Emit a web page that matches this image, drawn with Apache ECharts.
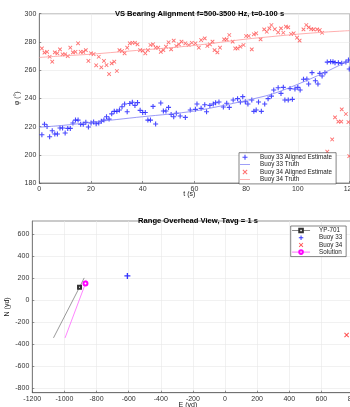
<!DOCTYPE html>
<html>
<head>
<meta charset="utf-8">
<script src="https://cdn.jsdelivr.net/npm/echarts@6/dist/echarts.min.js"></script>
<style>
  html, body { margin: 0; padding: 0; overflow: hidden; background: #fff; }
  #main { width: 350px; height: 407px; }
</style>
</head>
<body>
<div id="main"></div>
<script>
// top plot: bearings vs time
var buoy33Time = [1,2,3,4,5,6,7,8,9,10,11,12,13,14,15,16,17,18,19,20,21,22,23,24,25,26,27,28,29,30,
  31,32,33,34,35,36,37,38,39,40,41,42,43,44,45,47,48,49,50,51,52,53,54.5,56.5,58.4,60.4,61,62.6,64,64.7,
  66,67.3,68.2,69.5,71.2,72.5,73.5,75,76.7,77.8,78.7,79.7,80.7,82.2,83,83.9,84.8,85.9,87.2,88.5,
  89.8,90.7,92.4,93.5,94.4,95,96.3,97,97.9,98.9,100,100.9,102.2,103.5,104.2,105.5,106.8,107.8,108.5,109.4,
  110.5,111.4,112.7,113.6,114.4,115.7,117,118.6,119.6,119.9];
var buoy33Est = [214.2,221.6,220,212.8,217,214.7,214.7,219,219,215.4,218.7,218.7,222.5,224.6,224.6,221.6,221.6,223,219.7,222.5,
  223.2,222,222.5,223.7,224.6,227,225.3,229,230.8,230.8,231.7,234,236,230.5,236.4,237.2,235,237,231.5,230,
  230,224.6,224.6,234.3,221.8,236.7,231,231,233.6,228.6,227,229.4,227.5,226.5,231.7,232.2,236,232.9,235.5,230.5,
  235,236,236.9,237.4,233.9,236.5,233.6,238.8,239.8,237.4,241.2,237.6,236,238.8,230.8,231.7,237.4,230.8,236,239.8,
  241.6,245.9,247.5,243.5,247.8,238.8,238.8,246.9,239.3,246.6,247.8,245.9,253.5,253.7,250.2,258.2,252.5,250.2,257.7,255.8,
  258.2,265.7,266,266,265.3,265.3,264.8,265.7,267.2,260.8];

var buoy34Time = [1,2,3,4,5,6,7,8,9,10,11,12,13,14,15,16,17,18,19,20,21,22,23,24,25,26,27,28,29,30,
  31,32,33,34,35,36,37,38,39,40,41,42,43,44,45,46,47,48,49,50,51,52,53,54,55,56.5,57.8,59,60.4,61.7,
  62.6,64,65,66,67,67.8,68.9,69.9,71.5,72.5,73.5,74.8,75.8,76.7,77.8,79,80,81,82.2,83,
  83.9,85.6,87,88,89,89.8,91.1,92.4,93.5,94.4,95.4,96.3,97.4,98.4,99.7,100.7,102.2,103.3,104.2,105.2,
  106.1,107.5,108.5,109.4,111.4,113.3,114.4,115.7,116.8,117,118.6,119.6,119.9];
var buoy34Est = [275.4,272.4,273,269.5,266,272.6,271.9,274.7,271.2,271.2,270,275.9,272.6,273,279,273,273,274.2,266.5,271.9,
  271.4,263.4,269.5,262,266.5,263.6,257.2,264.8,266,259.4,274.2,273.5,271.9,275.9,279,279.4,279.4,278.3,274.2,273.8,
  271.9,274.2,277.8,278.3,275.9,275.9,273,274.2,276.6,279.7,274.7,280.9,277.1,278.3,280.2,279,277.8,279.4,279,275.9,
  281.3,282.5,277.1,278.3,280.2,274.2,272.6,275.9,281.8,281.8,284.9,280.2,275.4,275.4,276.6,277.8,284.2,284.2,274.7,285.4,
  286.1,281.8,288.9,287.2,289.6,292,289,286.8,289.6,286.5,290.8,290.3,285.6,286.1,283,280.9,288.9,292,290.3,289.1,
  288.9,288.9,288.4,286.5,202.2,210.9,226.5,223.5,223.5,232.2,228.9,223.2,199.1];

var truthTime = [0,10,20,30,40,50,60,70,80,90,100,110,118,120];
var buoy33Truth = [219.5,221,223,225,227,228.8,231,234.5,238.5,243,250,258,265,266];
var buoy34Truth = [269,270.2,271.3,272.8,274.3,275.8,277.5,279.7,282,283.8,285.5,286.9,287.8,288];

// bottom plot: overhead view, E / N in yd
var yp701Track = [[-1068, -342], [-906, 118], [-877, 203]];
var solutionTrack = [[-996, -342], [-869, 152], [-865, 185]];
var buoy33Pos = [[-608, 221]];
var buoy34Pos = [[757, -315]];

var nTicks = [-800, -600, -400, -200, 0, 200, 400, 600];

var PLUS = 'path://M0,3.9L10,3.9L10,6.1L0,6.1Z M3.9,0L6.1,0L6.1,10L3.9,10Z';
var CROSS = 'path://M0,1.5L1.5,0L10,8.5L8.5,10Z M8.5,0L10,1.5L1.5,10L0,8.5Z';
// thin horizontal line icon; corner specks keep the box from being stretched
var LINE_ICON = 'path://M0,0L0.1,0L0,0.1Z M0,8.6L40,8.6L40,11.4L0,11.4Z M40,20L39.9,20L40,19.9Z';
var FONT = 'Liberation Sans';

function pairs(xs, ys) {
  return xs.map(function (x, i) { return [x, ys[i]]; });
}
function withMarkerAt(track, idx) {
  return track.map(function (p, i) {
    return i === idx ? p : {value: p, symbol: 'none'};
  });
}

var axisCommon = {
  axisLine: {show: true, onZero: false, lineStyle: {color: '#4d4d4d', width: 0.6}},
  axisTick: {show: true, inside: true, length: 2, lineStyle: {color: '#4d4d4d', width: 0.6}},
  axisLabel: {color: '#333', fontSize: 7, fontFamily: FONT, margin: 3,
    formatter: function (v) { return String(v); }},
  splitLine: {show: true, lineStyle: {color: '#e8e8e8', width: 0.6}},
  nameLocation: 'middle',
  nameMoveOverlap: false,
  nameTextStyle: {color: '#222', fontSize: 7, fontFamily: FONT}
};
function ax(o) { return Object.assign({}, axisCommon, o); }

var legendCommon = {
  orient: 'vertical', padding: [1.5, 4, 1.5, 1], borderColor: '#333', borderWidth: 0.6,
  backgroundColor: '#fff', lineStyle: {width: 0.7}
};

var myChart = echarts.init(document.getElementById('main'));
var option = {
  animation: false,
  backgroundColor: '#fff',
  title: [
    {text: 'VS Bearing Alignment f=500-3500 Hz, t=0-100 s', left: 194.5, top: 4.5, textAlign: 'center',
      textStyle: {fontSize: 7.6, fontWeight: 'bold', color: '#000', fontFamily: FONT}},
    {text: 'Range Overhead View, Tavg = 1 s', left: 193, top: 212, textAlign: 'center',
      textStyle: {fontSize: 7.6, fontWeight: 'bold', color: '#000', fontFamily: FONT}}
  ],
  grid: [
    {left: 39.3, top: 13.7, width: 310.2, height: 169.3, outerBoundsMode: 'none', containLabel: false,
      show: true, borderColor: '#4d4d4d', borderWidth: 0.6},
    {left: 32.3, top: 221, width: 321.2, height: 171.7, outerBoundsMode: 'none', containLabel: false,
      show: true, borderColor: '#4d4d4d', borderWidth: 0.6}
  ],
  xAxis: [
    ax({gridIndex: 0, type: 'value', min: 0, max: 120, interval: 20, name: 't (s)', nameGap: 7.5,
      nameTextStyle: {color: '#222', fontSize: 7, fontFamily: FONT, padding: [0, 10, 0, 0]}}),
    ax({gridIndex: 1, type: 'value', min: -1200, max: 800, interval: 200, name: 'E (yd)', nameGap: 8.5,
      nameTextStyle: {color: '#222', fontSize: 7, fontFamily: FONT, padding: [0, 10, 0, 0]}})
  ],
  yAxis: [
    ax({gridIndex: 0, type: 'value', min: 180, max: 300, interval: 20, name: 'φ (°)', nameGap: 19}),
    ax({gridIndex: 1, type: 'value', min: -840, max: 720, name: 'N (yd)', nameGap: 22,
      axisTick: Object.assign({}, axisCommon.axisTick, {customValues: nTicks}),
      axisLabel: Object.assign({}, axisCommon.axisLabel, {customValues: nTicks}),
      splitLine: {show: true, lineStyle: {color: '#e8e8e8', width: 0.6}, customValues: nTicks}})
  ],
  legend: [
    Object.assign({}, legendCommon, {left: 239, top: 152.7, itemWidth: 22, itemHeight: 5, itemGap: 1.4,
      textStyle: {fontSize: 6.3, color: '#222', fontFamily: FONT, padding: [0, 0, 0, -1]},
      data: [
        {name: 'Buoy 33 Aligned Estimate'},
        {name: 'Buoy 33 Truth', icon: LINE_ICON},
        {name: 'Buoy 34 Aligned Estimate'},
        {name: 'Buoy 34 Truth', icon: LINE_ICON}
      ]}),
    Object.assign({}, legendCommon, {left: 290.7, top: 226, itemWidth: 18, itemHeight: 4.5, itemGap: 1.2,
      textStyle: {fontSize: 6.3, color: '#222', fontFamily: FONT, padding: [0, 0, 0, 4]},
      data: ['YP-701', 'Buoy 33', 'Buoy 34', 'Solution']})
  ],
  series: [
    {name: 'Buoy 33 Aligned Estimate', type: 'scatter', xAxisIndex: 0, yAxisIndex: 0,
      symbol: PLUS, symbolSize: 5, symbolKeepAspect: true, itemStyle: {color: '#1a1aff'},
      data: pairs(buoy33Time, buoy33Est)},
    {name: 'Buoy 33 Truth', type: 'line', xAxisIndex: 0, yAxisIndex: 0, symbol: 'none', smooth: 0.3,
      lineStyle: {color: '#8080f5', width: 0.8}, itemStyle: {color: '#8080f5'},
      data: pairs(truthTime, buoy33Truth)},
    {name: 'Buoy 34 Aligned Estimate', type: 'scatter', xAxisIndex: 0, yAxisIndex: 0,
      symbol: CROSS, symbolSize: 4.2, symbolKeepAspect: true, itemStyle: {color: '#ff4d4d'},
      data: pairs(buoy34Time, buoy34Est)},
    {name: 'Buoy 34 Truth', type: 'line', xAxisIndex: 0, yAxisIndex: 0, symbol: 'none', smooth: 0.3,
      lineStyle: {color: '#ff9999', width: 0.8}, itemStyle: {color: '#ff9999'},
      data: pairs(truthTime, buoy34Truth)},

    {name: 'YP-701', type: 'line', xAxisIndex: 1, yAxisIndex: 1,
      symbol: 'emptyRect', symbolSize: 3, showSymbol: true,
      lineStyle: {color: '#555', width: 0.6}, itemStyle: {color: '#333', borderWidth: 0.6},
      data: withMarkerAt(yp701Track, 1)},
    {name: 'Buoy 33', type: 'scatter', xAxisIndex: 1, yAxisIndex: 1,
      symbol: PLUS, symbolSize: 6, symbolKeepAspect: true, itemStyle: {color: '#0000ff'},
      data: buoy33Pos},
    {name: 'Buoy 34', type: 'scatter', xAxisIndex: 1, yAxisIndex: 1,
      symbol: CROSS, symbolSize: 5, symbolKeepAspect: true, itemStyle: {color: '#ff2a2a'},
      data: buoy34Pos},
    {name: 'Solution', type: 'line', xAxisIndex: 1, yAxisIndex: 1,
      symbol: 'emptyCircle', symbolSize: 4, showSymbol: true,
      lineStyle: {color: '#ff33ff', width: 0.6}, itemStyle: {color: '#ff00ff', borderWidth: 0.7},
      data: withMarkerAt(solutionTrack, 1)}
  ]
};
myChart.setOption(option);
</script>
</body>
</html>
